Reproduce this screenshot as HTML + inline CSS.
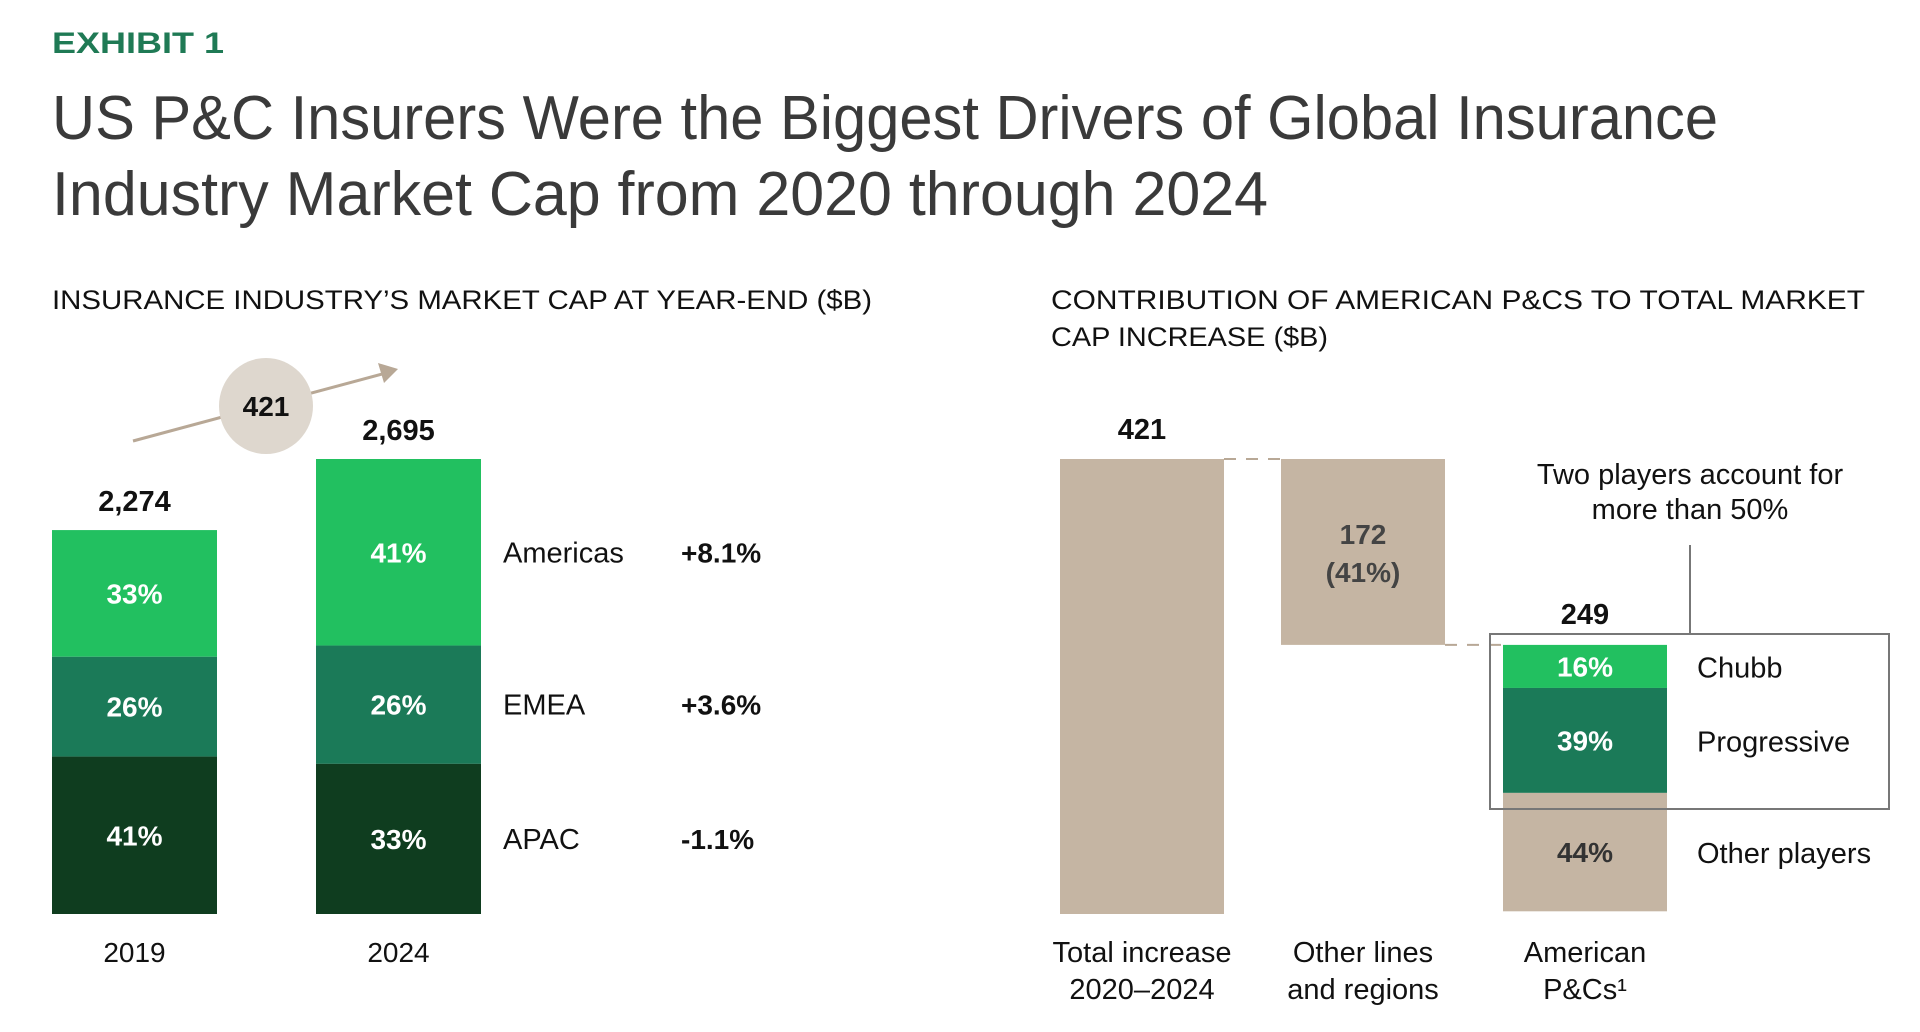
<!DOCTYPE html>
<html><head><meta charset="utf-8"><style>
html,body{margin:0;padding:0;background:#fff;}
svg{display:block;font-family:"Liberation Sans",sans-serif;}
</style></head><body>
<svg id="chart" width="1920" height="1032" viewBox="0 0 1920 1032">
  <text x="52" y="53" font-size="30" font-weight="bold" fill="#1f7a55" textLength="172" lengthAdjust="spacingAndGlyphs">EXHIBIT 1</text>
  <text x="52" y="139" font-size="62" fill="#3a3a3a" textLength="1666" lengthAdjust="spacingAndGlyphs">US P&amp;C Insurers Were the Biggest Drivers of Global Insurance</text>
  <text x="52" y="215" font-size="62" fill="#3a3a3a" textLength="1216" lengthAdjust="spacingAndGlyphs">Industry Market Cap from 2020 through 2024</text>
  <text x="52" y="309" font-size="27" fill="#111" textLength="820" lengthAdjust="spacingAndGlyphs">INSURANCE INDUSTRY’S MARKET CAP AT YEAR-END ($B)</text>
  <text x="1051" y="309" font-size="27" fill="#111" textLength="814" lengthAdjust="spacingAndGlyphs">CONTRIBUTION OF AMERICAN P&amp;CS TO TOTAL MARKET</text>
  <text x="1051" y="346" font-size="27" fill="#111" textLength="277" lengthAdjust="spacingAndGlyphs">CAP INCREASE ($B)</text>
  <g id="left"></g>
  <g id="right" transform="translate(-6,0)"></g>
</svg>
<script>
// Left chart data
const years = ["2019", "2024"];
const totals = [2274, 2695];
const regions = ["Americas", "EMEA", "APAC"];
const shares2019 = [33, 26, 41];
const shares2024 = [41, 26, 33];
const growth = ["+8.1%", "+3.6%", "-1.1%"];
const changeLabel = "421";
// Right chart data
const wfCategories = [["Total increase", "2020–2024"], ["Other lines", "and regions"], ["American", "P&Cs¹"]];
const wfValues = [421, 172, 249];
const wfShareLabel = "(41%)";
const players = ["Chubb", "Progressive", "Other players"];
const playerShares = [16, 39, 44];

const NS = "http://www.w3.org/2000/svg";
const C_LIGHT = "#22c060", C_MID = "#1b7a58", C_DARK = "#0f3d1f", TAN = "#c5b5a3";
function mk(tag, attrs, parent, text) {
  const e = document.createElementNS(NS, tag);
  for (const k in attrs) e.setAttribute(k, attrs[k]);
  if (text !== undefined) e.textContent = text;
  parent.appendChild(e);
  return e;
}
const BASE = 914;
const leftScale = v => v * 455 / 2695;
const left = document.getElementById("left");
const barX = [52, 316], barW = 165;
const segColors = [C_LIGHT, C_MID, C_DARK];
const allShares = [shares2019, shares2024];
years.forEach((yr, i) => {
  const h = leftScale(totals[i]);
  let top = BASE - h;
  const cx = barX[i] + barW / 2;
  allShares[i].forEach((s, j) => {
    const sh = h * s / 100;
    const r = mk("rect", {x: barX[i], y: top, width: barW, height: sh, fill: segColors[j]}, left);
    
    
    const t = mk("text", {x: cx, y: top + sh / 2 + 10, "font-size": 28, "font-weight": "bold", fill: "#fff", "text-anchor": "middle"}, left, s + "%");
    
    
    if (i === 1) {
      const l = mk("text", {x: 503, y: top + sh / 2 + 10, "font-size": 29, fill: "#111"}, left, regions[j]);
      
      
      const g = mk("text", {x: 681, y: top + sh / 2 + 10, "font-size": 28, "font-weight": "bold", fill: "#111"}, left, growth[j]);
      
      
    }
    top += sh;
  });
  const tl = mk("text", {x: cx, y: BASE - h - 19, "font-size": 29, "font-weight": "bold", fill: "#111", "text-anchor": "middle"}, left, totals[i].toLocaleString("en-US"));
  
  
  const yl = mk("text", {x: cx, y: 962, "font-size": 28, fill: "#111", "text-anchor": "middle"}, left, yr);
  
  
});
const arrow = mk("line", {x1: 133, y1: 441, x2: 386, y2: 373, stroke: "#b8a896", "stroke-width": 3}, left);


const head = mk("polygon", {points: "398,369 378,363 384,383", fill: "#b8a896"}, left);


const bub = mk("ellipse", {cx: 266, cy: 406, rx: 47, ry: 48, fill: "#ded7ce"}, left);


const bt = mk("text", {x: 266, y: 416, "font-size": 28, "font-weight": "bold", fill: "#111", "text-anchor": "middle"}, left, changeLabel);



const right = document.getElementById("right");
const rScale = v => v * 455 / wfValues[0];
const wX = [1066, 1287, 1509], wW = 164;
const topTotal = BASE - rScale(wfValues[0]);
const bar2Bottom = topTotal + rScale(wfValues[1]);
const bar3Top = BASE - rScale(wfValues[2]);
const b1 = mk("rect", {x: wX[0], y: topTotal, width: wW, height: rScale(wfValues[0]), fill: TAN}, right);


const b2 = mk("rect", {x: wX[1], y: topTotal, width: wW, height: rScale(wfValues[1]), fill: TAN}, right);


let ptop = bar3Top;
const pColors = [C_LIGHT, C_MID, TAN];
playerShares.forEach((s, j) => {
  const sh = rScale(wfValues[2]) * s / 100;
  const r = mk("rect", {x: wX[2], y: ptop, width: wW, height: sh, fill: pColors[j]}, right);
  
  
  const t = mk("text", {x: wX[2] + wW / 2, y: ptop + sh / 2 + 10, "font-size": 28, "font-weight": "bold", fill: j === 2 ? "#333" : "#fff", "text-anchor": "middle"}, right, s + "%");
  
  
  const l = mk("text", {x: 1703, y: ptop + sh / 2 + 11, "font-size": 29, fill: "#111"}, right, players[j]);
  
  
  ptop += sh;
});
const d1 = mk("line", {x1: wX[0] + wW, y1: topTotal, x2: wX[1], y2: topTotal, stroke: "#b8a896", "stroke-width": 2, "stroke-dasharray": "12,10"}, right);


const d2 = mk("line", {x1: wX[1] + wW, y1: bar2Bottom, x2: wX[2], y2: bar2Bottom, stroke: "#b8a896", "stroke-width": 2, "stroke-dasharray": "12,10"}, right);


const v1 = mk("text", {x: wX[0] + wW / 2, y: topTotal - 20, "font-size": 29, "font-weight": "bold", fill: "#111", "text-anchor": "middle"}, right, String(wfValues[0]));


const v2 = mk("text", {x: wX[1] + wW / 2, y: 544, "font-size": 28, "font-weight": "bold", fill: "#444", "text-anchor": "middle"}, right, String(wfValues[1]));


const v2b = mk("text", {x: wX[1] + wW / 2, y: 582, "font-size": 28, "font-weight": "bold", fill: "#444", "text-anchor": "middle"}, right, wfShareLabel);


const v3 = mk("text", {x: wX[2] + wW / 2, y: bar3Top - 21, "font-size": 29, "font-weight": "bold", fill: "#111", "text-anchor": "middle"}, right, String(wfValues[2]));


const box = mk("rect", {x: 1496, y: 634, width: 399, height: 175, fill: "none", stroke: "#777", "stroke-width": 2}, right);


const vl = mk("line", {x1: 1696, y1: 545, x2: 1696, y2: 634, stroke: "#777", "stroke-width": 2}, right);


const c1 = mk("text", {x: 1696, y: 484, "font-size": 29, fill: "#111", "text-anchor": "middle"}, right, "Two players account for");


const c2 = mk("text", {x: 1696, y: 519, "font-size": 29, fill: "#111", "text-anchor": "middle"}, right, "more than 50%");


wfCategories.forEach((lines, i) => {
  lines.forEach((ln, k) => {
    const t = mk("text", {x: wX[i] + wW / 2, y: 962 + k * 37, "font-size": 29, fill: "#111", "text-anchor": "middle"}, right, ln);
    
    
  });
});
</script>
</body></html>
